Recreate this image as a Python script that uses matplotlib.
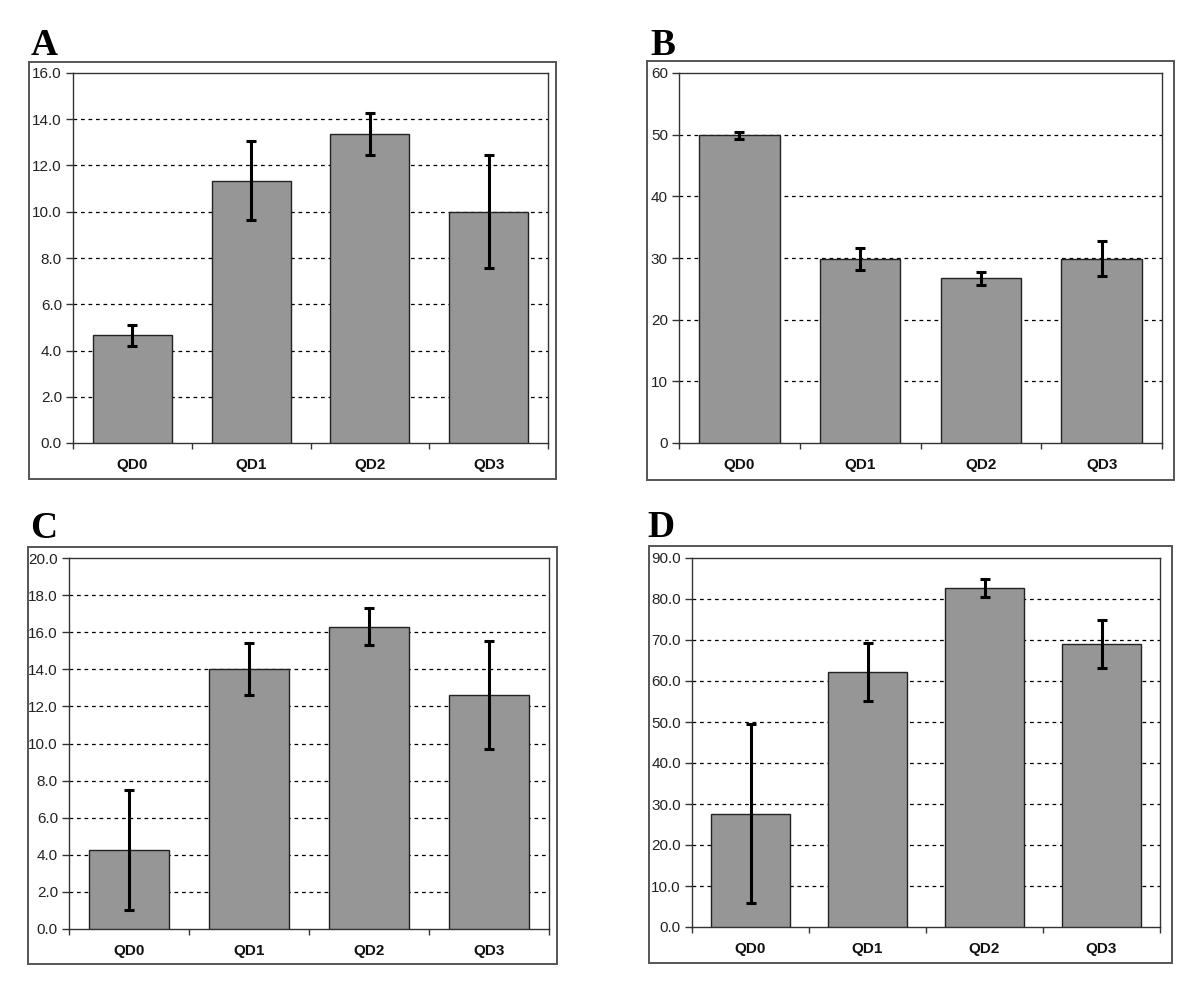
import matplotlib
matplotlib.use("Agg")
import matplotlib.pyplot as plt
from matplotlib.patches import Rectangle
from matplotlib.ticker import FormatStrFormatter, MultipleLocator

categories = ["QD0", "QD1", "QD2", "QD3"]

values_a = [4.65, 11.35, 13.35, 10.0]
errors_a = [0.45, 1.7, 0.9, 2.45]

values_b = [49.9, 29.9, 26.7, 29.9]
errors_b = [0.6, 1.8, 1.0, 2.8]

values_c = [4.26, 14.0, 16.3, 12.6]
errors_c = [3.25, 1.4, 1.0, 2.9]

values_d = [27.6, 62.2, 82.7, 69.0]
errors_d = [21.8, 7.0, 2.2, 5.8]

W, H = 1200, 992
fig = plt.figure(figsize=(W / 100, H / 100), dpi=100)
plt.rcParams['font.family'] = ['Liberation Sans', 'DejaVu Sans']


def px_box(x0, y0, x1, y1):
    """pixel box (top-left origin) -> figure fraction [l, b, w, h]"""
    return [x0 / W, 1 - y1 / H, (x1 - x0) / W, (y1 - y0) / H]


def bar_panel(rect, frame, letter, letter_xy, values, errors, ymax, step, fmt):
    # outer chart frame
    fl, fb, fw, fh = px_box(*frame)
    fig.patches.append(Rectangle((fl, fb), fw, fh, transform=fig.transFigure,
                                 fill=False, edgecolor='#555555', linewidth=1.4))
    fig.text(letter_xy[0] / W, 1 - letter_xy[1] / H, letter, family='Liberation Serif',
             fontweight='bold', fontsize=27, va='baseline', ha='left')

    ax = fig.add_axes(px_box(*rect))
    x = list(range(len(categories)))
    ax.bar(x, values, width=0.667, color='#969696', edgecolor='#222222', linewidth=1.0, zorder=3)
    ax.errorbar(x, values, yerr=errors, fmt='none', ecolor='black', elinewidth=2.2,
                capsize=3.5, capthick=2.2, zorder=4)

    ax.set_xlim(-0.5, len(categories) - 0.5)
    ax.set_ylim(0, ymax)
    ax.yaxis.set_major_locator(MultipleLocator(step))
    ax.yaxis.set_major_formatter(FormatStrFormatter(fmt))
    for t in ax.get_yticks():
        if 0 < t < ymax:
            ax.axhline(t, color='black', linewidth=0.9, linestyle=(0, (3, 3)), zorder=1)

    # tick marks at category boundaries, labels centred under bars
    ax.set_xticks([i - 0.5 for i in range(len(categories) + 1)])
    ax.set_xticklabels([])
    ax.set_xticks(x, minor=True)
    ax.set_xticklabels(categories, minor=True, fontweight='bold', fontsize=11)
    ax.tick_params(axis='x', which='major', direction='out', length=4, width=1, color='#333333')
    ax.tick_params(axis='x', which='minor', length=0, pad=11, labelcolor='#111111')
    ax.tick_params(axis='y', direction='out', length=5, width=1, color='#333333',
                   labelsize=11, pad=3, labelcolor='#222222')
    for s in ax.spines.values():
        s.set_color('#333333')
        s.set_linewidth(1.0)
    return ax


bar_panel((73, 73, 548, 443), (29, 62, 556, 479), "A", (31, 55),
          values_a, errors_a, 16, 2, '%.1f')
bar_panel((679, 73, 1162, 443), (647, 61, 1174, 480), "B", (650, 55),
          values_b, errors_b, 60, 10, '%d')
bar_panel((69, 558, 549, 929), (28, 547, 557, 964), "C", (30, 538),
          values_c, errors_c, 20, 2, '%.1f')
bar_panel((692, 558, 1160, 927), (649, 546, 1172, 963), "D", (647, 537),
          values_d, errors_d, 90, 10, '%.1f')

fig.savefig("out.png", dpi=100)
